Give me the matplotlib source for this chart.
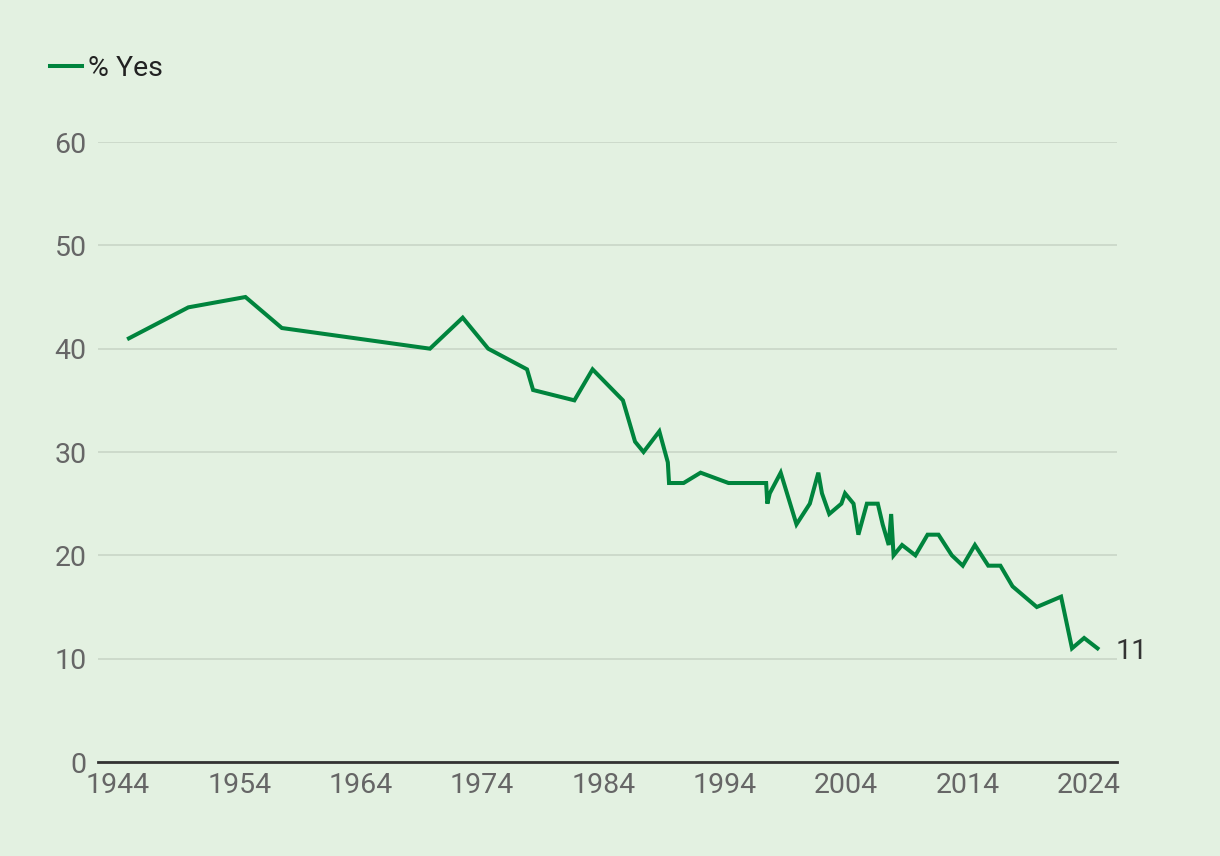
import matplotlib
matplotlib.use("Agg")
import matplotlib.pyplot as plt

# readings from the chart (decimal year, % yes)
years = [1944.9, 1949.8, 1954.5, 1957.5, 1969.7, 1972.4, 1974.5, 1977.7, 1978.2,
         1981.6, 1983.1, 1985.6, 1986.6, 1987.3, 1988.6, 1989.3, 1989.4, 1990.6,
         1992.0, 1994.3, 1997.4, 1997.5, 1997.7, 1998.6, 1999.9, 2001.0, 2001.7,
         2002.0, 2002.6, 2003.6, 2003.9, 2004.6, 2005.0, 2005.7, 2006.6, 2007.0,
         2007.5, 2007.7, 2007.9, 2008.6, 2009.7, 2010.7, 2011.6, 2012.7, 2013.6,
         2014.6, 2015.7, 2016.7, 2017.7, 2019.7, 2021.7, 2022.6, 2023.6, 2024.7]
pct_yes = [41, 44, 45, 42, 40, 43, 40, 38, 36,
           35, 38, 35, 31, 30, 32, 29, 27, 27,
           28, 27, 27, 25, 26, 28, 23, 25, 28,
           26, 24, 25, 26, 25, 22, 25, 25, 23,
           21, 24, 20, 21, 20, 22, 22, 20, 19,
           21, 19, 19, 17, 15, 16, 11, 12, 11]
xticks = [1944, 1954, 1964, 1974, 1984, 1994, 2004, 2014, 2024]
yticks = [0, 10, 20, 30, 40, 50, 60]

bg = "#e3f1e1"
green = "#00843d"
plt.rcParams["font.family"] = ["Roboto", "DejaVu Sans"]
fs = 20.5

fig = plt.figure(figsize=(12.2, 8.56), dpi=100, facecolor=bg)
ax = fig.add_axes([0.0803, 0.1098, 0.8352, 0.7243], facecolor=bg)

ax.plot(years, pct_yes, color=green, lw=2.9, solid_joinstyle="miter", label="% Yes", zorder=3)
ax.text(years[-1] + 1.5, pct_yes[-1] - 0.3, str(pct_yes[-1]), fontsize=fs, color="#333333",
        va="center", ha="left")

ax.set_xlim(1942.35, 2026.3)
ax.set_ylim(0, 60)
ax.set_xticks(xticks)
ax.set_yticks(yticks)
ax.tick_params(axis="both", length=0, labelsize=fs, labelcolor="#666666")
ax.tick_params(axis="x", pad=7)
ax.tick_params(axis="y", pad=8)
ax.grid(axis="y", color="#cbd8c9", lw=1.3, zorder=0)
ax.set_axisbelow(True)
for s in ["left", "right", "top"]:
    ax.spines[s].set_visible(False)
ax.spines["bottom"].set_color("#333333")
ax.spines["bottom"].set_linewidth(2)
ax.spines["bottom"].set_zorder(4)

fig.legend(loc="center left", bbox_to_anchor=(50 / 1220, 1 - 68 / 856), frameon=False,
           fontsize=fs, handlelength=1.12, handletextpad=0.22, borderpad=0,
           borderaxespad=0, labelcolor="#222222")

fig.savefig("out.png", dpi=100, facecolor=bg)
